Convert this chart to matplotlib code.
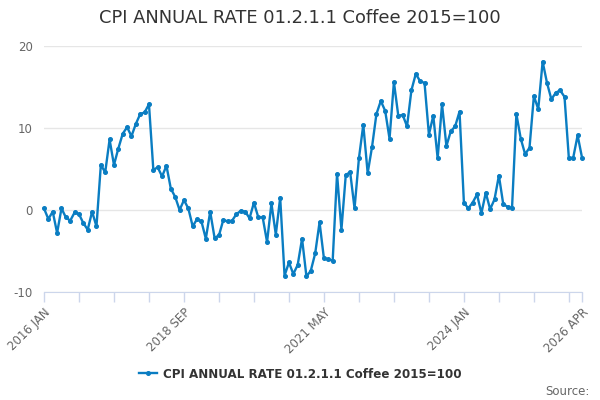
import matplotlib
matplotlib.use("Agg")
import matplotlib.pyplot as plt

title = "CPI ANNUAL RATE 01.2.1.1 Coffee 2015=100"
start_year = 2016
month_names = ["JAN", "FEB", "MAR", "APR", "MAY", "JUN",
               "JUL", "AUG", "SEP", "OCT", "NOV", "DEC"]

# monthly annual rate, 2016 JAN .. 2026 APR
values = [
    0.2, -1.1, -0.2, -2.8, 0.2, -0.9, -1.3, -0.3, -0.5, -1.6, -2.4, -0.2,
    -2.0, 5.5, 4.6, 8.6, 5.5, 7.5, 9.3, 10.1, 9.0, 10.5, 11.7, 11.9,
    12.9, 4.9, 5.2, 4.1, 5.4, 2.6, 1.6, 0.0, 1.2, 0.2, -2.0, -1.1,
    -1.4, -3.5, -0.2, -3.4, -3.1, -1.2, -1.4, -1.3, -0.5, -0.1, -0.2, -1.0,
    0.9, -0.9, -0.9, -3.9, 0.8, -3.0, 1.5, -8.0, -6.4, -7.8, -6.7, -3.5,
    -8.1, -7.4, -5.3, -1.5, -5.9, -6.0, -6.2, 4.4, -2.4, 4.3, 4.6, 0.2,
    6.3, 10.4, 4.5, 7.7, 11.7, 13.3, 12.1, 8.7, 15.6, 11.5, 11.6, 10.2,
    14.6, 16.6, 15.7, 15.5, 9.2, 11.5, 6.3, 12.9, 7.8, 9.6, 10.2, 12.0,
    0.9, 0.2, 0.9, 1.9, -0.4, 2.1, 0.1, 1.3, 4.2, 0.7, 0.4, 0.2,
    11.7, 8.7, 6.8, 7.6, 13.9, 12.3, 18.1, 15.5, 13.5, 14.3, 14.6, 13.8,
    6.3, 6.4, 9.1, 6.4,
]
y_ticks = [-10, 0, 10, 20]

months = list(range(len(values)))
last = months[-1]
tick_pos = list(range(0, last, 8)) + [last]


def month_label(i):
    return f"{start_year + i // 12} {month_names[i % 12]}"


tick_labels = [month_label(i) if (i % 32 == 0 or i == last) else "" for i in tick_pos]

plt.rcParams['font.family'] = ['DejaVu Sans']
fig = plt.figure(figsize=(6, 4), dpi=100)
ax = fig.add_axes([0.0733, 0.27, 0.8967, 0.615])

line_color = "#0a7dc2"
ax.plot(months, values, color=line_color, linewidth=1.7, marker="o", markersize=2.6,
        label=title, clip_on=False, zorder=3)

ax.set_xlim(0, last)
ax.set_ylim(-10, 20)
ax.set_yticks(y_ticks)
ax.set_yticklabels([str(v) for v in y_ticks], color="#666666", fontsize=8.5)
ax.grid(axis="y", color="#e6e6e6", linewidth=1)
ax.set_axisbelow(True)

ax.set_xticks(tick_pos)
ax.set_xticklabels(tick_labels, rotation=45, ha="right", rotation_mode="anchor",
                   color="#666666", fontsize=8.5)
ax.tick_params(axis="x", length=7, color="#ccd6eb", width=1, pad=3)
ax.tick_params(axis="y", length=0, pad=8)

for s in ["left", "right", "top"]:
    ax.spines[s].set_visible(False)
ax.spines["bottom"].set_color("#ccd6eb")

fig.text(0.5, 0.955, title, ha="center", va="center", fontsize=12.9, color="#333333")

leg = fig.legend(loc="center", bbox_to_anchor=(0.5, 0.065), frameon=False,
                 handlelength=1.5, handletextpad=0.5,
                 prop={"weight": "bold", "size": 8.6})
for t in leg.get_texts():
    t.set_color("#333333")

fig.text(0.982, 0.022, "Source:", ha="right", va="center", fontsize=8.5, color="#666666")

fig.savefig("out.png", dpi=100)
